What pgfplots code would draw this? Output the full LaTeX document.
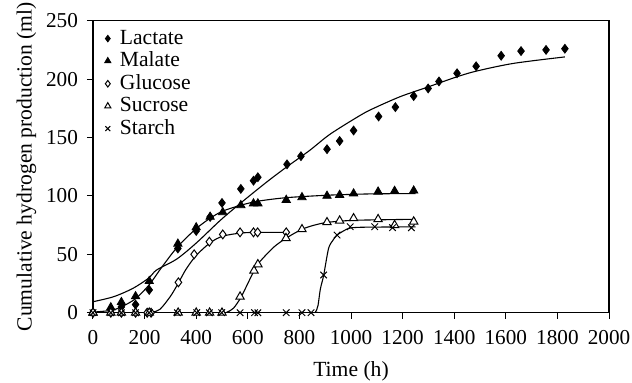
\documentclass[border=0pt]{standalone}
\usepackage{fontspec}
\setmainfont{Liberation Serif}
\usepackage{pgfplots}
\pgfplotsset{compat=1.18}
\begin{document}
\begin{tikzpicture}
\begin{axis}[
  scale only axis,
  width=258pt, height=146pt,
  xmin=0, xmax=2000, ymin=0, ymax=250,
  xtick={0,200,...,2000}, ytick={0,50,...,250},
  xtick pos=bottom, ytick pos=left,
  tick align=outside, major tick length=3pt,
  tick style={black, line width=0.5pt},
  axis line style={line width=0.6pt},
  /pgf/number format/assume math mode=true,
  /pgf/number format/1000 sep={},
  ticklabel style={font=\fontsize{10.6}{12}\selectfont},
  xticklabel style={yshift=-2.5pt},
  yticklabel style={xshift=-1pt},
  label style={font=\fontsize{10.8}{12}\selectfont},
  xlabel style={yshift=-1.5pt},
  ylabel style={yshift=-2pt},
  xlabel={Time (h)},
  ylabel={Cumulative hydrogen production (ml)},
  legend style={at={(rel axis cs:0.018,0.99)}, anchor=north west, draw=none, fill=none,
    font=\fontsize{10.8}{12}\selectfont, row sep=-1.6pt, inner sep=1pt,
    /tikz/every odd column/.append style={column sep=2.5pt}},
  legend image post style={scale=0.75},
  legend cell align=left,
]
\coordinate (sw) at (rel axis cs:0,0);
% fitted curves
\addplot[forget plot, black, line width=0.55pt, smooth, tension=0.5] coordinates {
(0,9.4) (80,13.7) (156,21) (218,30) (246,36.5) (325,46) (402,60) (493,79) (573,94) (674,112)
(752,125) (840,139) (920,153) (1036,169) (1088,175) (1191,185) (1295,193) (1411,202) (1489,207)
(1631,213.5) (1829,219)};
\addplot[forget plot, black, line width=0.55pt, smooth, tension=0.5] coordinates {
(0,0.5) (70,2) (110,5) (165,12) (218,24) (270,40) (330,57) (400,72) (455,81) (503,87) (573,92)
(640,95.5) (750,98.5) (900,100.5) (1000,101.3) (1100,101.8) (1250,102)};
\addplot[forget plot, black, line width=0.55pt, smooth, tension=0.5] coordinates {
(0,0) (200,0) (230,0.5) (260,3) (300,14) (330,25) (360,37) (400,49) (455,60) (503,65.5) (573,68.2)
(640,68.8) (750,68.8)};
\addplot[forget plot, black, line width=0.55pt, smooth, tension=0.5] coordinates {
(0,0) (500,0) (520,0.5) (545,4) (573,13) (600,25) (622,35) (640,42) (700,56) (750,64) (806,71)
(850,74.5) (907,77.3) (1000,79) (1100,79.5) (1250,80)};
\addplot[forget plot, black, line width=0.55pt, smooth, tension=0.45] coordinates {
(0,0) (850,0) (862,0.5) (872,6) (881,20) (894,32) (913,55) (930,62) (946,66.5) (975,70.5) (997,72.5)
(1050,73.2) (1250,73.5)};
% data
\addplot[only marks, mark=diamond*, mark size=2.2pt, mark options={fill=black, line width=0.4pt}] coordinates {
(0,0) (69,3) (110,5) (165,7) (218,19.5) (329,55) (400,70) (454,82) (500,94) (573,106) (622,113)
(639,116) (752,127) (806,134) (907,140) (956,147) (1010,156) (1107,168) (1172,176) (1243,185.5)
(1299,192) (1341,198) (1411,205) (1485,211) (1582,220) (1659,224) (1756,225) (1829,226)};
\addlegendentry{Lactate}
\addplot[only marks, mark=triangle*, mark size=2.4pt, mark options={fill=black, line width=0.4pt}] coordinates {
(0,0) (69,4.5) (110,9) (165,14) (218,27) (329,59) (400,73) (454,82) (503,86) (573,92) (622,93.5)
(639,93.5) (749,96.5) (810,98.8) (907,100) (956,100.8) (1010,102) (1105,103.6) (1169,104.2) (1243,104.5)};
\addlegendentry{Malate}
\addplot[only marks, mark=diamond*, mark size=2.2pt, mark options={fill=white, draw=black, line width=0.5pt}] coordinates {
(0,0) (69,0) (110,0) (165,0) (210,0) (225,0) (331,26) (392,50) (451,60.8) (503,67) (570,68.8)
(622,68.8) (638,68.8) (749,68.8)};
\addlegendentry{Glucose}
\addplot[only marks, mark=triangle*, mark size=2.4pt, mark options={fill=white, draw=black, line width=0.5pt}] coordinates {
(0,0) (69,0) (110,0) (165,0) (218,0) (330,0) (400,0) (452,0) (500,0) (570,13.7) (624,36) (639,41.4)
(748,63.8) (810,71.4) (907,77.4) (956,78.8) (1010,80.8) (1105,80) (1169,75) (1243,78)};
\addlegendentry{Sucrose}
\addplot[only marks, mark=x, mark size=2.3pt, mark options={draw=black, line width=0.5pt}] coordinates {
(0,0) (69,0) (110,0) (165,0) (218,0) (327,0) (402,0) (451,0) (499,0) (570,0) (626,0) (639,0)
(749,0) (810,0) (845,0) (894,32.3) (946,66.5) (997,73.6) (1092,73.6) (1161,72.8) (1234,72.8)};
\addlegendentry{Starch}
\end{axis}
\pgfresetboundingbox
\path ([shift={(-46.5pt,-34.65pt)}]sw) rectangle +(316pt,191pt);
\end{tikzpicture}
\end{document}
